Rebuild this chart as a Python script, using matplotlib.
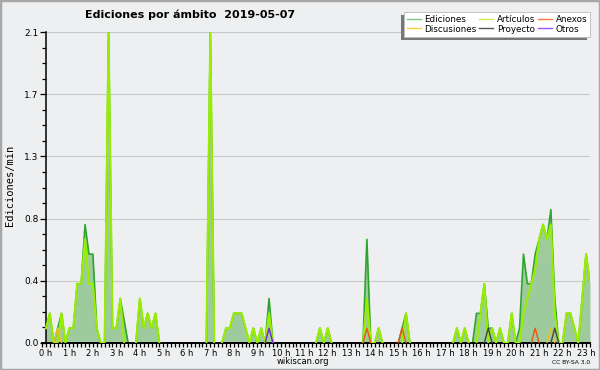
import numpy as np
import matplotlib
matplotlib.use("Agg")
import matplotlib.pyplot as plt
from matplotlib.ticker import FixedLocator, FormatStrFormatter, MultipleLocator
from matplotlib.patches import Rectangle
from matplotlib.lines import Line2D

# ediciones/min en tramos de 10 min, una fila por hora
ediciones = [
    0.1, 0.2, 0, 0.1, 0.2, 0,        # 0 h
    0.1, 0.1, 0.4, 0.4, 0.8, 0.6,    # 1 h
    0.6, 0.1, 0, 0, 2.1, 0.1,        # 2 h
    0.1, 0.3, 0.15, 0, 0, 0,         # 3 h
    0.3, 0.1, 0.2, 0.1, 0.2, 0,      # 4 h
    0, 0, 0, 0, 0, 0,                # 5 h
    0, 0, 0, 0, 0, 0,                # 6 h
    2.1, 0, 0, 0, 0.1, 0.1,          # 7 h
    0.2, 0.2, 0.2, 0.1, 0, 0.1,      # 8 h
    0, 0.1, 0, 0.3, 0, 0,            # 9 h
    0, 0, 0, 0, 0, 0,                # 10 h
    0, 0, 0, 0, 0.1, 0,              # 11 h
    0.1, 0, 0, 0, 0, 0,              # 12 h
    0, 0, 0, 0, 0.7, 0,              # 13 h
    0, 0.1, 0, 0, 0, 0,              # 14 h
    0, 0.1, 0.2, 0, 0, 0,            # 15 h
    0, 0, 0, 0, 0, 0,                # 16 h
    0, 0, 0, 0.1, 0, 0.1,            # 17 h
    0, 0, 0.2, 0.2, 0.4, 0.1,        # 18 h
    0.1, 0, 0.1, 0, 0, 0.2,          # 19 h
    0, 0.1, 0.6, 0.4, 0.4, 0.6,      # 20 h
    0.7, 0.8, 0.7, 0.9, 0.3, 0,      # 21 h
    0, 0.2, 0.2, 0.1, 0, 0.3,        # 22 h
    0.6, 0.4,                        # 23 h
]
articulos = [
    0.1, 0.2, 0, 0, 0.2, 0,
    0.1, 0.1, 0.4, 0.4, 0.7, 0.4,
    0.4, 0.1, 0, 0, 2.1, 0.1,
    0.1, 0.3, 0, 0, 0, 0,
    0.3, 0.1, 0.2, 0.1, 0.2, 0,
    0, 0, 0, 0, 0, 0,
    0, 0, 0, 0, 0, 0,
    2.1, 0, 0, 0, 0.1, 0.1,
    0.2, 0.2, 0.2, 0.1, 0, 0.1,
    0, 0.1, 0, 0.2, 0, 0,
    0, 0, 0, 0, 0, 0,
    0, 0, 0, 0, 0.1, 0,
    0.1, 0, 0, 0, 0, 0,
    0, 0, 0, 0, 0.3, 0,
    0, 0.1, 0, 0, 0, 0,
    0, 0, 0.2, 0, 0, 0,
    0, 0, 0, 0, 0, 0,
    0, 0, 0, 0.1, 0, 0.1,
    0, 0, 0, 0.2, 0.4, 0,
    0.1, 0, 0.1, 0, 0, 0.2,
    0, 0, 0.2, 0.3, 0.4, 0.5,
    0.7, 0.8, 0.7, 0.8, 0.2, 0,
    0, 0.2, 0.2, 0.1, 0, 0.3,
    0.6, 0.4,
]
# series pequeñas: tramo (10 min) -> valor
discusiones_tramos, discusiones_vals = [3, 129], [0.1, 0.1]
anexos_tramos, anexos_vals = [82, 91, 125], [0.1, 0.1, 0.1]
proyecto_tramos, proyecto_vals = [113, 130], [0.1, 0.1]
otros_tramos, otros_vals = [57], [0.1]

horas = list(range(24))
hora_labels = [f"{h} h" for h in horas]

bg = "#eeeff0"
plt.rcParams['font.family'] = ['DejaVu Sans']

n = len(ediciones)
t = np.arange(n) / 6.0


def serie(tramos, vals):
    v = np.zeros(n)
    v[tramos] = vals
    return v


def ocultar_ceros(v):
    # no dibujar la línea sobre el eje donde todo es cero
    v = np.asarray(v, dtype=float)
    izq = np.r_[0, v[:-1]]
    der = np.r_[v[1:], 0]
    out = v.copy()
    out[(v == 0) & (izq == 0) & (der == 0)] = np.nan
    return out


fig = plt.figure(figsize=(6, 3.7), dpi=100, facecolor=bg)
ax = fig.add_axes([42 / 600, 1 - 343 / 370, 548 / 600, 311 / 370])
ax.patch.set_visible(False)

ax.fill_between(t, ediciones, 0, color="#9ecb9e", lw=0, zorder=1)
ax.plot(t, ocultar_ceros(ediciones), color="#2ea52e", lw=1.2, zorder=2)
ax.plot(t, ocultar_ceros(articulos), color="#99ee00", lw=1.5, zorder=3)
ax.plot(t, ocultar_ceros(serie(anexos_tramos, anexos_vals)), color="#ee5511", lw=1.0, zorder=4)
ax.plot(t, ocultar_ceros(serie(discusiones_tramos, discusiones_vals)), color="#f0c020", lw=1.0, zorder=4)
ax.plot(t, ocultar_ceros(serie(proyecto_tramos, proyecto_vals)), color="#444444", lw=1.0, zorder=4)
ax.plot(t, ocultar_ceros(serie(otros_tramos, otros_vals)), color="#7722dd", lw=1.0, zorder=4)

ax.set_xlim(-1 / 6, (n - 1) / 6)
ax.set_ylim(0, 2.1)

yt = np.linspace(0, 2.1, 6)
ax.yaxis.set_major_locator(FixedLocator(yt))
ax.yaxis.set_minor_locator(FixedLocator(np.linspace(0, 2.1, 21)))
ax.yaxis.set_major_formatter(FormatStrFormatter('%.1f'))
ax.set_xticks(horas)
ax.set_xticklabels(hora_labels)
ax.xaxis.set_minor_locator(MultipleLocator(1 / 6))

ax.tick_params(axis='both', which='both', direction='out', color='black', width=0.9)
ax.tick_params(axis='y', which='major', length=4.5, pad=1, labelsize=6.5)
ax.tick_params(axis='y', which='minor', length=3)
ax.tick_params(axis='x', which='major', length=3, pad=1, labelsize=6)
ax.tick_params(axis='x', which='minor', length=3)

ax.grid(axis='y', which='major', color="#c8c8c8", lw=0.8)
ax.set_axisbelow(True)
for s in ['top', 'right']:
    ax.spines[s].set_visible(False)
ax.spines['left'].set_position(('data', 0))
ax.spines['left'].set_linewidth(1.1)
ax.spines['bottom'].set_linewidth(1.4)

fig.text(85 / 600, 1 - 15 / 370, "Ediciones por ámbito  2019-05-07",
         fontsize=8, fontweight='bold', ha='left', va='center')
fig.text(10 / 600, 1 - 185 / 370, "Ediciones/min", rotation=90,
         fontsize=7.5, family='DejaVu Sans Mono', ha='center', va='center')
fig.text(303 / 600, 1 - 361 / 370, "wikiscan.org", fontsize=6, ha='center', va='center')
fig.text(590 / 600, 1 - 362 / 370, "CC BY-SA 3.0", fontsize=4.3, ha='right', va='center')

handles = [
    Line2D([], [], color="#77cc77", lw=1),
    Line2D([], [], color="#ffcc44", lw=1),
    Line2D([], [], color="#ccee55", lw=1),
    Line2D([], [], color="#555555", lw=1),
    Line2D([], [], color="#ff7744", lw=1),
    Line2D([], [], color="#9955ff", lw=1),
]
labels = ["Ediciones", "Discusiones", "Artículos", "Proyecto", "Anexos", "Otros"]
leg = fig.legend(handles, labels, ncol=3, loc='upper left',
                 bbox_to_anchor=(404 / 600, 1 - 12 / 370), borderaxespad=0,
                 fontsize=6.3, frameon=True, fancybox=False, framealpha=1,
                 handlelength=1.6, handletextpad=0.4, columnspacing=0.3,
                 labelspacing=0.05, borderpad=0.35)
leg.get_frame().set_facecolor('white')
leg.get_frame().set_edgecolor('#bbbbbb')
leg.get_frame().set_linewidth(0.6)
leg.set_zorder(10)

fig.canvas.draw()
bb = leg.get_window_extent().transformed(fig.transFigure.inverted())
fig.add_artist(Rectangle((bb.x0 - 3 / 600, bb.y0 - 3 / 370), bb.width, bb.height,
                         transform=fig.transFigure, facecolor='#777777',
                         edgecolor='none', zorder=9))

fig.add_artist(Rectangle((0, 0), 1, 1, transform=fig.transFigure, fill=False,
                         edgecolor='#a8a8a8', lw=2.5, zorder=20))

fig.savefig("out.png", dpi=100, facecolor=bg)
